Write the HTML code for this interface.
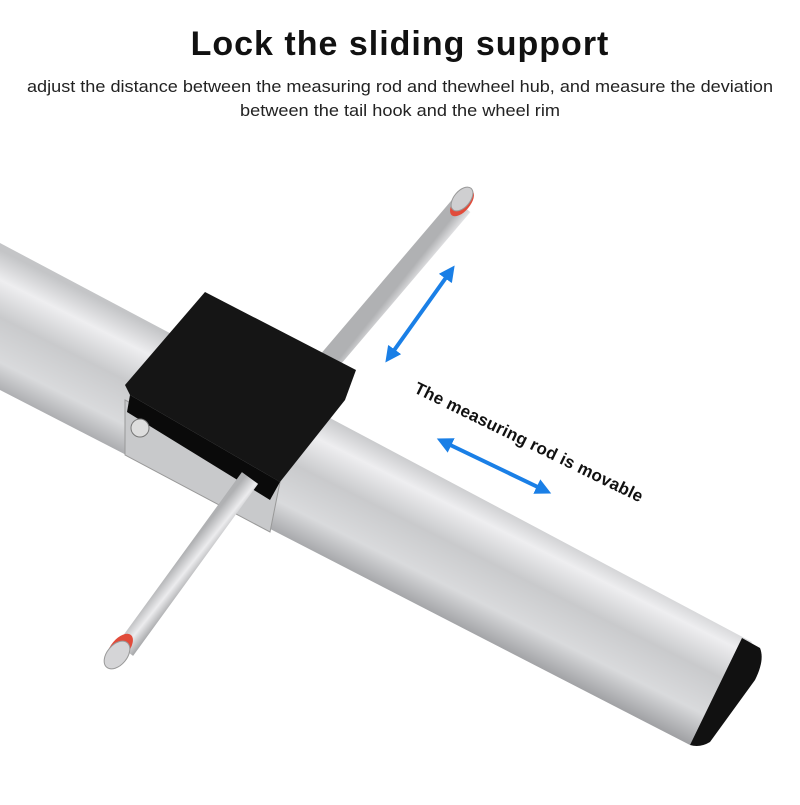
<!DOCTYPE html>
<html><head><meta charset="utf-8"><style>
body{margin:0;width:800px;height:800px;background:#fff;overflow:hidden;font-family:"Liberation Sans",sans-serif}
</style></head><body>
<svg width="800" height="800" viewBox="0 0 800 800" xmlns="http://www.w3.org/2000/svg">
<defs>
<linearGradient id="tube" gradientUnits="userSpaceOnUse" x1="380" y1="440" x2="320" y2="560">
<stop offset="0" stop-color="#c4c5c7"/><stop offset="0.2" stop-color="#eeeef0"/><stop offset="0.45" stop-color="#c9cacc"/><stop offset="0.75" stop-color="#d9dadc"/><stop offset="1" stop-color="#9fa0a3"/>
</linearGradient>
<linearGradient id="rod" gradientUnits="userSpaceOnUse" x1="290" y1="420" x2="310" y2="436">
<stop offset="0" stop-color="#b0b1b3"/><stop offset="0.5" stop-color="#ececee"/><stop offset="1" stop-color="#a0a1a3"/>
</linearGradient>
<marker id="ah" markerWidth="4" markerHeight="4" refX="2" refY="2" orient="auto-start-reverse" markerUnits="strokeWidth"><path d="M0,0 L4,2 L0,4 z" fill="#1a7fe6"/></marker>
</defs>
<text x="400" y="55" text-anchor="middle" font-size="34" font-weight="bold" fill="#111" letter-spacing="1">Lock the sliding support</text>
<text x="400" y="92" text-anchor="middle" font-size="17" fill="#222" textLength="746" lengthAdjust="spacingAndGlyphs">adjust the distance between the measuring rod and thewheel hub, and measure the deviation</text>
<text x="400" y="116" text-anchor="middle" font-size="17" fill="#222" textLength="320" lengthAdjust="spacingAndGlyphs">between the tail hook and the wheel rim</text>
<polygon points="0,243 752,642 690,745 0,390" fill="url(#tube)"/>
<path d="M742,638 L760,648 Q765,660 755,680 L710,742 Q700,748 690,745 Z" fill="#111"/>
<line x1="330" y1="360" x2="462" y2="205" stroke="url(#rod)" stroke-width="22"/>
<ellipse cx="462" cy="203" rx="16" ry="8" transform="rotate(-50 462 203)" fill="#e14b3a"/>
<ellipse cx="462" cy="199" rx="14" ry="8" transform="rotate(-50 462 199)" fill="#cfcfd1" stroke="#999"/>
<polygon points="125,400 280,482 270,532 125,455" fill="#c8c9cb" stroke="#999"/>
<polygon points="205,292 356,370 345,400 280,482 130,395 125,385" fill="#151515"/>
<polygon points="130,395 280,482 270,500 127,412" fill="#0a0a0a"/>
<circle cx="140" cy="428" r="9" fill="#ddd" stroke="#777"/>
<line x1="250" y1="478" x2="125" y2="650" stroke="url(#rod)" stroke-width="20"/>
<ellipse cx="120" cy="648" rx="17" ry="9" transform="rotate(-50 120 648)" fill="#e14b3a"/>
<ellipse cx="117" cy="655" rx="16" ry="10" transform="rotate(-50 117 655)" fill="#d5d5d7" stroke="#999"/>
<line x1="390" y1="356" x2="450" y2="272" stroke="#1a7fe6" stroke-width="4" marker-start="url(#ah)" marker-end="url(#ah)"/>
<line x1="444" y1="442" x2="544" y2="490" stroke="#1a7fe6" stroke-width="4" marker-start="url(#ah)" marker-end="url(#ah)"/>
<text x="413" y="392" font-size="17" font-weight="bold" fill="#111" transform="rotate(26 413 392)" textLength="252" lengthAdjust="spacing">The measuring rod is movable</text>
</svg>
</body></html>
